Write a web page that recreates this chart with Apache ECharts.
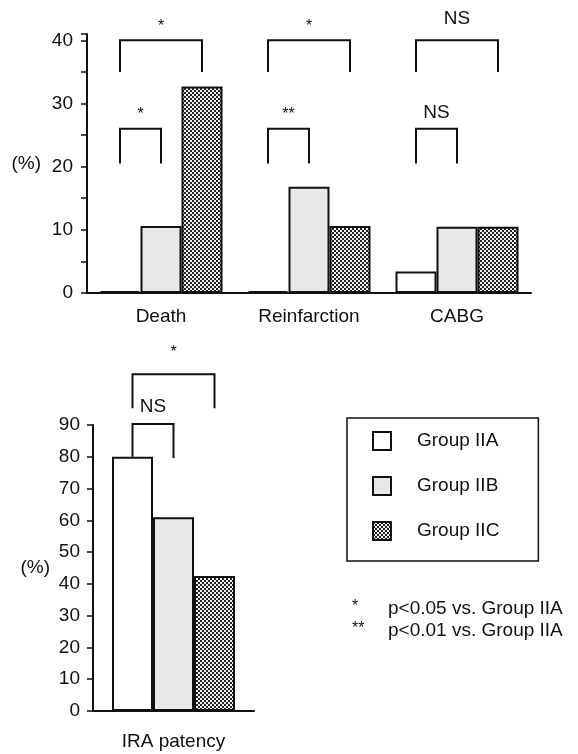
<!DOCTYPE html>
<html>
<head>
<meta charset="utf-8">
<script src="https://cdn.jsdelivr.net/npm/echarts@6/dist/echarts.min.js"></script>
<style>
  html, body { margin: 0; padding: 0; background: #ffffff; }
  #chart { width: 578px; height: 754px; }
</style>
</head>
<body>
<div id="chart"></div>
<script>
// ---------- data ----------
const groupNames = ['Group IIA', 'Group IIB', 'Group IIC'];

const outcomeCategories = ['Death', 'Reinfarction', 'CABG'];
const outcomeIIA = [0, 0, 3.4];
const outcomeIIB = [10.6, 16.8, 10.5];
const outcomeIIC = [32.7, 10.6, 10.5];

const patencyCategories = ['IRA patency'];
const patencyIIA = [80];
const patencyIIB = [61];
const patencyIIC = [42.5];

// significance brackets: category index, compared groups, heights (in %)
const outcomeBrackets = [
  { cat: 0, from: 0, to: 2, top: 40, leftEnd: 35, rightEnd: 35, label: '*',  labelAt: 42.2 },
  { cat: 0, from: 0, to: 1, top: 26, leftEnd: 20.5, rightEnd: 20.5, label: '*',  labelAt: 28.2 },
  { cat: 1, from: 0, to: 2, top: 40, leftEnd: 35, rightEnd: 35, label: '*',  labelAt: 42.2 },
  { cat: 1, from: 0, to: 1, top: 26, leftEnd: 20.5, rightEnd: 20.5, label: '**', labelAt: 28.2 },
  { cat: 2, from: 0, to: 2, top: 40, leftEnd: 35, rightEnd: 35, label: 'NS', labelAt: 43.4 },
  { cat: 2, from: 0, to: 1, top: 26, leftEnd: 20.5, rightEnd: 20.5, label: 'NS', labelAt: 28.6 }
];
const patencyBrackets = [
  { cat: 0, from: 0, to: 2, top: 106, leftEnd: 95.3, rightEnd: 95.3, label: '*',  labelAt: 112.7 },
  { cat: 0, from: 0, to: 1, top: 90.3, leftEnd: 80, rightEnd: 79.6, label: 'NS', labelAt: 95.6 }
];

const footnotes = [
  { mark: '*',  text: 'p<0.05 vs. Group IIA' },
  { mark: '**', text: 'p<0.01 vs. Group IIA' }
];

// ---------- styles ----------
const FONT = "'Liberation Sans', Arial, Helvetica, sans-serif";
const INK = '#111111';
const BAR_W = 41;

function checkerPattern() {
  const c = document.createElement('canvas');
  c.width = 4; c.height = 4;
  const ctx = c.getContext('2d');
  ctx.fillStyle = '#eeeeee';
  ctx.fillRect(0, 0, 4, 4);
  ctx.fillStyle = '#222222';
  ctx.fillRect(0, 0, 2, 2);
  ctx.fillRect(2, 2, 2, 2);
  return c;
}
const groupFills = ['#ffffff', '#e8e8e8', { image: checkerPattern(), repeat: 'repeat' }];

function barSeries(name, idx, data, gridIdx) {
  return {
    type: 'bar',
    name: name,
    data: data,
    xAxisIndex: gridIdx,
    yAxisIndex: gridIdx,
    barWidth: BAR_W,
    barGap: '0%',
    barMinHeight: 2,
    clip: false,
    z: 3,
    itemStyle: { color: groupFills[idx], borderColor: INK, borderWidth: 2 },
    emphasis: { disabled: true },
    animation: false
  };
}

function bracketRenderer(list) {
  return function (params, api) {
    const b = list[params.dataIndex];
    const c = api.coord([b.cat, 0])[0];
    const x1 = c + (b.from - 1) * BAR_W;
    const x2 = c + (b.to - 1) * BAR_W;
    const yTop = api.coord([b.cat, b.top])[1];
    const yL = api.coord([b.cat, b.leftEnd])[1];
    const yR = api.coord([b.cat, b.rightEnd])[1];
    const yLab = api.coord([b.cat, b.labelAt])[1];
    const isStar = b.label.indexOf('*') >= 0;
    return {
      type: 'group',
      children: [
        {
          type: 'polyline',
          shape: { points: [[x1, yL], [x1, yTop], [x2, yTop], [x2, yR]] },
          style: { stroke: INK, lineWidth: 2, fill: null }
        },
        {
          type: 'text',
          x: (x1 + x2) / 2,
          y: yLab,
          style: {
            text: b.label,
            fill: INK,
            font: (isStar ? '16px ' : '19px ') + FONT,
            align: 'center',
            verticalAlign: 'middle'
          }
        }
      ]
    };
  };
}

const axisLineStyle = { lineStyle: { color: INK, width: 2 } };

const option = {
  backgroundColor: '#ffffff',
  animation: false,
  textStyle: { fontFamily: FONT, color: INK },
  legend: {
    data: groupNames,
    orient: 'vertical',
    left: 347,
    top: 418,
    padding: [13, 39, 20, 25],
    itemWidth: 18,
    itemHeight: 18,
    itemGap: 25,
    borderColor: INK,
    borderWidth: 1.5,
    icon: 'rect',
    selectedMode: false,
    textStyle: { fontFamily: FONT, fontSize: 19, color: INK, padding: [0, 0, 0, 21] }
  },
  grid: [
    { left: 87, right: 47, top: 34, bottom: 461 },
    { left: 93, right: 324, top: 425, bottom: 43 }
  ],
  xAxis: [
    {
      type: 'category', gridIndex: 0, data: outcomeCategories,
      axisLine: axisLineStyle,
      axisTick: { inside: true, length: 5, lineStyle: { color: INK, width: 1.5 } },
      axisLabel: { color: INK, fontSize: 19, fontFamily: FONT, margin: 14 }
    },
    {
      type: 'category', gridIndex: 1, data: patencyCategories,
      axisLine: axisLineStyle,
      axisTick: { inside: true, length: 5, lineStyle: { color: INK, width: 1.5 } },
      axisLabel: { color: INK, fontSize: 19, fontFamily: FONT, margin: 21 }
    }
  ],
  yAxis: [
    {
      type: 'value', gridIndex: 0, min: 0, max: 41, interval: 5,
      name: '(%)', nameLocation: 'middle', nameRotate: 0, nameGap: 46,
      nameTextStyle: { color: INK, fontSize: 19, fontFamily: FONT, align: 'right', verticalAlign: 'middle' },
      splitLine: { show: false },
      axisLine: { show: true, lineStyle: { color: INK, width: 2 } },
      axisTick: { show: true, length: 6, lineStyle: { color: INK, width: 1.5 } },
      axisLabel: {
        color: INK, fontSize: 19, fontFamily: FONT, margin: 14,
        formatter: function (v) { return (v % 10 === 0 && v <= 40) ? String(v) : ''; }
      }
    },
    {
      type: 'value', gridIndex: 1, min: 0, max: 90, interval: 10,
      name: '(%)', nameLocation: 'middle', nameRotate: 0, nameGap: 43,
      nameTextStyle: { color: INK, fontSize: 19, fontFamily: FONT, align: 'right', verticalAlign: 'middle', padding: [0, 0, 32, 0] },
      splitLine: { show: false },
      axisLine: { show: true, lineStyle: { color: INK, width: 2 } },
      axisTick: { show: true, length: 6, lineStyle: { color: INK, width: 1.5 } },
      axisLabel: { color: INK, fontSize: 19, fontFamily: FONT, margin: 13 }
    }
  ],
  graphic: footnotes.map(function (f, i) {
    return {
      type: 'group',
      left: 352,
      top: 599 + i * 22,
      children: [
        { type: 'text', x: 0, y: 0, style: { text: f.mark, font: '16px ' + FONT, fill: INK } },
        { type: 'text', x: 36, y: 0, style: { text: f.text, font: '19px ' + FONT, fill: INK } }
      ]
    };
  }),
  series: [
    barSeries(groupNames[0], 0, outcomeIIA, 0),
    barSeries(groupNames[1], 1, outcomeIIB, 0),
    barSeries(groupNames[2], 2, outcomeIIC, 0),
    barSeries(groupNames[0], 0, patencyIIA, 1),
    barSeries(groupNames[1], 1, patencyIIB, 1),
    barSeries(groupNames[2], 2, patencyIIC, 1),
    {
      type: 'custom', xAxisIndex: 0, yAxisIndex: 0, clip: false, silent: true, z: 5,
      data: outcomeBrackets.map(function (b) { return [b.cat, b.top]; }),
      renderItem: bracketRenderer(outcomeBrackets)
    },
    {
      type: 'custom', xAxisIndex: 1, yAxisIndex: 1, clip: false, silent: true, z: 5,
      data: patencyBrackets.map(function (b) { return [b.cat, b.top]; }),
      renderItem: bracketRenderer(patencyBrackets)
    }
  ]
};

const chart = echarts.init(document.getElementById('chart'), null, { renderer: 'canvas' });
chart.setOption(option);
</script>
</body>
</html>
